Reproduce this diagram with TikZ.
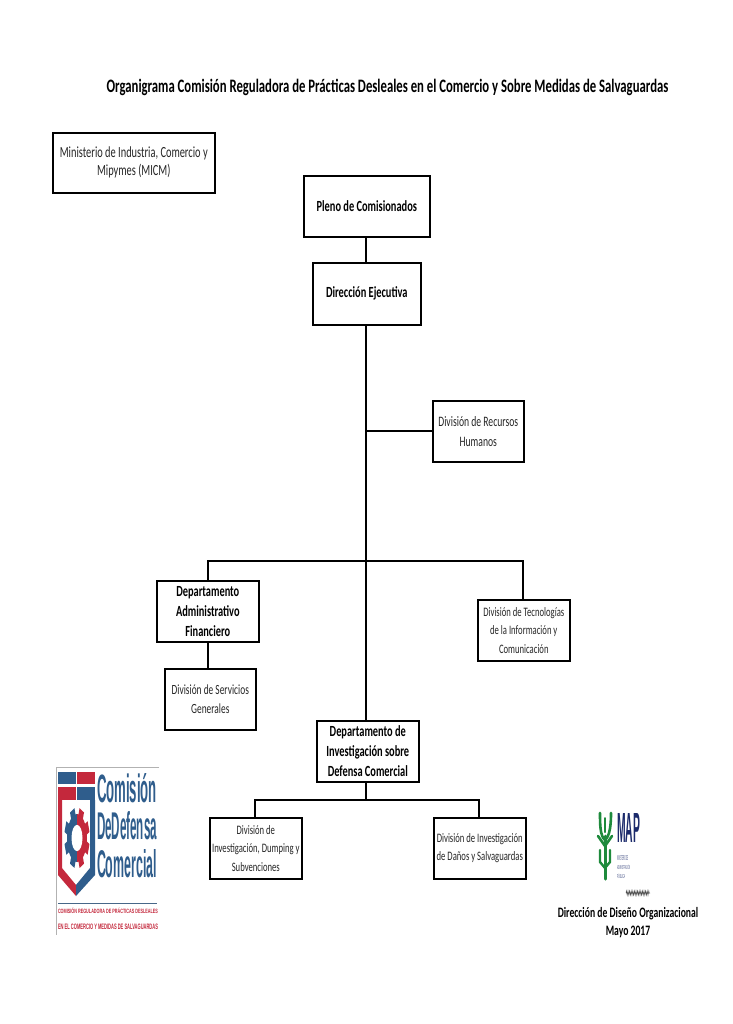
\documentclass[tikz,border=0pt]{standalone}
\usepackage{fontspec}
\usepackage{graphicx}
\usetikzlibrary{decorations.pathmorphing}
\setmainfont{Carlito}[FakeStretch=0.67]
\newfontfamily\logofont{Liberation Sans}
\definecolor{logoblue}{HTML}{2F5D8C}
\definecolor{logored}{HTML}{C4283C}
\definecolor{mapgreen}{HTML}{1E8A3C}
\definecolor{mapnavy}{HTML}{1B2A6B}
\tikzset{
  orgbox/.style={draw=black,line width=1.6pt,fill=white,align=center,inner sep=0pt,anchor=north west},
  plaintxt/.style={text=black!85,font=\fontsize{15.5}{18}\selectfont},
  plaintxtb/.style={text=black!85,font=\fontsize{14.4}{20}\selectfont},
  plaintxts/.style={text=black!85,font=\fontsize{14}{19}\selectfont},
  plaintxtc/.style={text=black!85,font=\fontsize{12.9}{18.5}\selectfont},
  boldtxt/.style={font=\fontsize{15.5}{20}\selectfont\bfseries},
  conn/.style={draw=black,line width=1.5pt},
  logotxt/.style={text=logoblue,inner sep=0pt,font=\logofont\bfseries},
}
\newcommand{\orgnode}[7]{\node[orgbox,#1,minimum width=#5pt,minimum height=#6pt] (#2) at (#3pt,-#4pt) {#7};}
\begin{document}
\begin{tikzpicture}[x=1pt,y=-1pt]
\useasboundingbox[fill=white] (0,0) rectangle (732,1024);
% title
\node[inner sep=0pt,font=\fontsize{19}{20}\selectfont\bfseries] (title) at (387.5,87) {Organigrama Comisión Reguladora de Prácticas Desleales en el Comercio y Sobre Medidas de Salvaguardas};
% boxes (x, y measured from the top)
\orgnode{plaintxt}{micm}{52}{132}{162}{60}{Ministerio de Industria, Comercio y\\Mipymes (MICM)}
\orgnode{boldtxt}{pleno}{303}{175}{126}{61}{Pleno de Comisionados}
\orgnode{boldtxt}{dir}{312}{262}{108}{62}{Dirección Ejecutiva}
\orgnode{plaintxtb}{rrhh}{432}{400}{91}{61}{División de Recursos\\Humanos}
\orgnode{boldtxt}{adm}{156}{580}{102}{61}{Departamento\\Administrativo\\Financiero}
\orgnode{plaintxts}{serv}{164}{668}{91}{61}{División de Servicios\\Generales}
\orgnode{plaintxtc}{tec}{477}{599}{92}{61}{División de Tecnologías\\de la Información y\\Comunicación}
\orgnode{boldtxt}{inv}{316}{720}{102}{61}{Departamento de\\Investigación sobre\\Defensa Comercial}
\orgnode{plaintxtc}{dump}{209}{817}{92}{61}{División de\\Investigación, Dumping y\\Subvenciones}
\orgnode{plaintxtc}{danos}{433}{817}{92}{61}{División de Investigación\\de Daños y Salvaguardas}
% connectors
\coordinate (jr) at (366,431);
\coordinate (jt) at (366,561);
\coordinate (jb) at (366,800);
\draw[conn] (pleno.south -| jr) -- (dir.north -| jr);
\draw[conn] (dir.south -| jr) -- (inv.north -| jr);
\draw[conn] (jr) -- (rrhh.west |- jr);
\coordinate (ja) at (208,561);
\coordinate (jc) at (523,561);
\draw[conn] (adm.north -| ja) -- (ja) -- (jc) -- (tec.north -| jc);
\draw[conn] (adm.south -| ja) -- (serv.north -| ja);
\draw[conn] (inv.south -| jb) -- (jb);
\coordinate (jd) at (255,800);
\coordinate (je) at (479,800);
\draw[conn] (dump.north -| jd) -- (jd) -- (je) -- (danos.north -| je);
% CDC logo
\draw[gray!60,line width=.6pt] (159,767) -- (56,767) -- (56,935);
\fill[logoblue] (58,772) rectangle (76,784);
\fill[logored] (77,772) rectangle (95,784);
\fill[logored] (58,787) rectangle (76,800);
\fill[logoblue] (77,787) rectangle (95,800);
\fill[logored] (58,800) -- (58,875) -- (76,896) -- (76,885) -- (62,868) -- (62,800) -- cycle;
\fill[logoblue] (95,800) -- (95,875) -- (76,896) -- (76,885) -- (90,868) -- (90,800) -- cycle;
% gear: blue left half, red right half
\begin{scope}
  \clip (50,800) rectangle (77,875);
  \begin{scope}[shift={(77,838)},yscale=2.4]
    \fill[logoblue] (0,0) circle[radius=10];
    \foreach \a in {0,45,...,315}{\fill[logoblue,rotate=\a+22.5] (9,-2.4) rectangle (12.5,2.4);}
  \end{scope}
\end{scope}
\begin{scope}
  \clip (77,800) rectangle (100,875);
  \begin{scope}[shift={(77,838)},yscale=2.4]
    \fill[logored] (0,0) circle[radius=10];
    \foreach \a in {0,45,...,315}{\fill[logored,rotate=\a+22.5] (9,-2.4) rectangle (12.5,2.4);}
  \end{scope}
\end{scope}
\begin{scope}[shift={(77,838)},yscale=2.4]
  \fill[white] (0,0) circle[radius=5.5];
\end{scope}
\node[logotxt,anchor=center] (lg1) at (127,788) {\resizebox{60pt}{29pt}{Comisión}};
\node[logotxt,anchor=center] (lg2) at (127,826) {\resizebox{60pt}{28pt}{DeDefensa}};
\node[logotxt,anchor=center] (lg3) at (127,864) {\resizebox{60pt}{28pt}{Comercial}};
\draw[logoblue!70!gray,line width=.6pt] (58,903) -- (157,903);
\node[inner sep=0pt,text=logored,font=\logofont\bfseries] (lg4) at (108,911) {\resizebox{100pt}{5.5pt}{COMISIÓN REGULADORA DE PRÁCTICAS DESLEALES}};
\node[inner sep=0pt,text=logored,font=\logofont\bfseries] (lg5) at (108,927) {\resizebox{100pt}{5.5pt}{EN EL COMERCIO Y MEDIDAS DE SALVAGUARDAS}};
% MAP logo
\begin{scope}[mapgreen]
  \draw[line width=3pt,line cap=round] (605,836) -- (605,879);
  \draw[line width=2.6pt,line cap=round] (605,840) .. controls (600,836) and (600,824) .. (600,813);
  \draw[line width=2.6pt,line cap=round] (605,840) .. controls (610,836) and (611,824) .. (611,813);
  \draw[line width=2pt,line cap=round] (605,832) -- (605,818);
  \draw[line width=2.6pt,line cap=round] (605,846) -- (598,836);
  \draw[line width=2.6pt,line cap=round] (605,846) -- (612,836);
  \draw[line width=2.4pt,line cap=round] (600,850) -- (600,862) -- (605,868);
  \draw[line width=2.4pt,line cap=round] (610,850) -- (610,862) -- (605,868);
\end{scope}
\node[inner sep=0pt,text=mapnavy,font=\logofont\bfseries] (mp1) at (628.5,828) {\resizebox{23pt}{29pt}{MAP}};
\node[inner sep=0pt,text=mapnavy!80,align=left,anchor=north west,font=\fontsize{4}{9}\selectfont\logofont] (mp2) at (617,855) {\resizebox{11pt}{5pt}{MINISTERIO DE}\\\resizebox{13pt}{5pt}{ADMINISTRACIÓN}\\\resizebox{8pt}{5pt}{PÚBLICA}};
\coordinate (sg1) at (626,893);
\coordinate (sg2) at (650,893);
\draw[black!70,line width=.5pt,decorate,decoration={zigzag,segment length=1.6pt,amplitude=2.2pt}] (sg1) -- (sg2);
% footer
\node[inner sep=0pt,font=\fontsize{14.4}{18}\selectfont\bfseries,align=center] (foot) at (628,923) {Dirección de Diseño Organizacional\\Mayo 2017};
\end{tikzpicture}
\end{document}
